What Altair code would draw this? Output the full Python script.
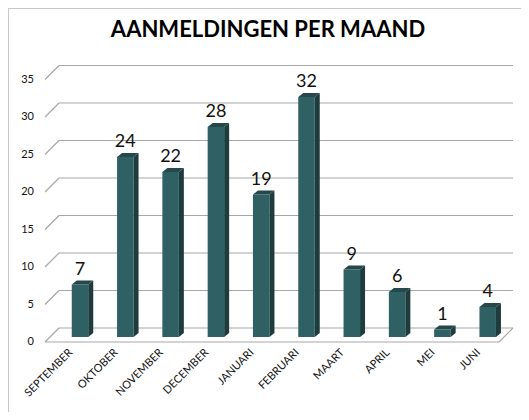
import altair as alt
import pandas as pd

# ---- data ----
maanden = ["SEPTEMBER", "OKTOBER", "NOVEMBER", "DECEMBER", "JANUARI",
           "FEBRUARI", "MAART", "APRIL", "MEI", "JUNI"]
aantallen = [7, 24, 22, 28, 19, 32, 9, 6, 1, 4]
y_ticks = [0, 5, 10, 15, 20, 25, 30, 35]
titel = "AANMELDINGEN PER MAAND"

# ---- style / geometry ----
W, H = 513, 404
FONT = "Lato"
FRONT = "#2f6063"
SIDE = "#1e3c3e"
TOP = "#25494b"
GRID = "#a8a8a8"
FRAME = "#c8c8c8"

STEP = 45.3        # px per category
HALF = 8.25        # half bar width, px
DX, DY = 5, 4      # bar depth, px
X0 = 49.35
Y_ZERO, PX_PER = 329, 7.5
WALL_L, WALL_D, WALL_R = 37, 14, 491   # floor / wall geometry, px
BACK_OFF, FRONT_OFF = -9, 5

hw = HALF / STEP
ddx = DX / STEP
ddy = DY / PX_PER

xs = alt.Scale(domain=[-0.5, 9.5], range=[X0, X0 + 10 * STEP], nice=False, zero=False)
ys = alt.Scale(domain=[0, 35], range=[Y_ZERO, Y_ZERO - 35 * PX_PER], nice=False, zero=False)

df = pd.DataFrame({"maand": maanden, "aantal": aantallen, "idx": list(range(len(maanden)))})
df2 = pd.concat([df.assign(k=0), df.assign(k=1)], ignore_index=True)
gdf = pd.DataFrame({"v": y_ticks})
one = pd.DataFrame({"t": [titel]})

# frame (top + left edges)
frame_top = alt.Chart(one).mark_rule(color=FRAME, strokeWidth=1).encode(
    x=alt.value(0), x2=alt.value(W), y=alt.value(0.5))
frame_left = alt.Chart(one).mark_rule(color=FRAME, strokeWidth=1).encode(
    x=alt.value(0.5), y=alt.value(0), y2=alt.value(H))

# back wall gridlines
back = alt.Chart(gdf).mark_rule(color=GRID, strokeWidth=1.2, yOffset=BACK_OFF).encode(
    x=alt.value(WALL_L + WALL_D), x2=alt.value(W - 8),
    y=alt.Y("v:Q", scale=ys, axis=None))
diag = alt.Chart(gdf).mark_rule(color=GRID, strokeWidth=1.2,
                                yOffset=FRONT_OFF, y2Offset=BACK_OFF).encode(
    x=alt.value(WALL_L), x2=alt.value(WALL_L + WALL_D),
    y=alt.Y("v:Q", scale=ys, axis=None), y2="v:Q")
floor_front = alt.Chart(gdf[gdf.v == 0]).mark_rule(color=GRID, strokeWidth=1.2, yOffset=FRONT_OFF).encode(
    x=alt.value(WALL_L), x2=alt.value(WALL_R),
    y=alt.Y("v:Q", scale=ys, axis=None))
floor_right = alt.Chart(gdf[gdf.v == 0]).mark_rule(color=GRID, strokeWidth=1.2,
                                                   yOffset=FRONT_OFF, y2Offset=BACK_OFF).encode(
    x=alt.value(WALL_R), x2=alt.value(WALL_R + WALL_D),
    y=alt.Y("v:Q", scale=ys, axis=None), y2="v:Q")

# y tick labels (front plane)
ylabels = alt.Chart(gdf).mark_text(font=FONT, fontSize=11, align="right", baseline="middle",
                                   yOffset=FRONT_OFF, color="#111").encode(
    x=alt.value(26), y=alt.Y("v:Q", scale=ys, axis=None), text="v:Q")

# bars: front face
front = alt.Chart(df).transform_calculate(
    xl=f"datum.idx - {hw}", xr=f"datum.idx + {hw}"
).mark_rect(color=FRONT).encode(
    x=alt.X("xl:Q", scale=xs, axis=None), x2="xr:Q",
    y=alt.Y("aantal:Q", scale=ys, axis=None),
    y2=alt.datum(0))

# side face
side = alt.Chart(df2).transform_calculate(
    sx=f"datum.idx + {hw} + datum.k * {ddx}",
    sy=f"datum.aantal + datum.k * {ddy}",
    sy0=f"datum.k * {ddy}"
).mark_area(color=SIDE, orient="vertical").encode(
    x=alt.X("sx:Q", scale=xs, axis=None),
    y=alt.Y("sy:Q", scale=ys, stack=None, axis=None), y2="sy0:Q",
    detail="maand:N")

# top face
top = alt.Chart(df2).transform_calculate(
    tl=f"datum.idx - {hw} + datum.k * {ddx}",
    tr=f"datum.idx + {hw} + datum.k * {ddx}",
    ty=f"datum.aantal + datum.k * {ddy}"
).mark_area(color=TOP, orient="horizontal").encode(
    y=alt.Y("ty:Q", scale=ys, axis=None),
    x=alt.X("tl:Q", scale=xs, stack=None, axis=None), x2="tr:Q",
    detail="maand:N")

# value labels
vals = alt.Chart(df).mark_text(font=FONT, fontSize=18, baseline="alphabetic",
                               dy=-10, color="#111").encode(
    x=alt.X("idx:Q", scale=xs, axis=None),
    y=alt.Y("aantal:Q", scale=ys, axis=None),
    text="aantal:Q")

# category labels
cats = alt.Chart(df).mark_text(font=FONT, fontSize=11, angle=315, align="right",
                               baseline="middle", xOffset=-9, color="#111").encode(
    x=alt.X("idx:Q", scale=xs, axis=None),
    y=alt.value(343),
    text="maand:N")

# title
title = alt.Chart(one).mark_text(font=FONT, fontSize=22, fontWeight="bold",
                                 align="center", baseline="alphabetic", color="#000").encode(
    x=alt.value(260), y=alt.value(29), text="t:N")

chart = alt.layer(
    frame_top, frame_left, back, diag, floor_front, floor_right, ylabels,
    front, side, top, vals, cats, title
).properties(
    width=W, height=H, padding=0,
    autosize=alt.AutoSizeParams(type="none"),
    background="white"
).configure_view(stroke=None)

chart.save("out.html", embed_options={"renderer": "svg", "actions": False})
